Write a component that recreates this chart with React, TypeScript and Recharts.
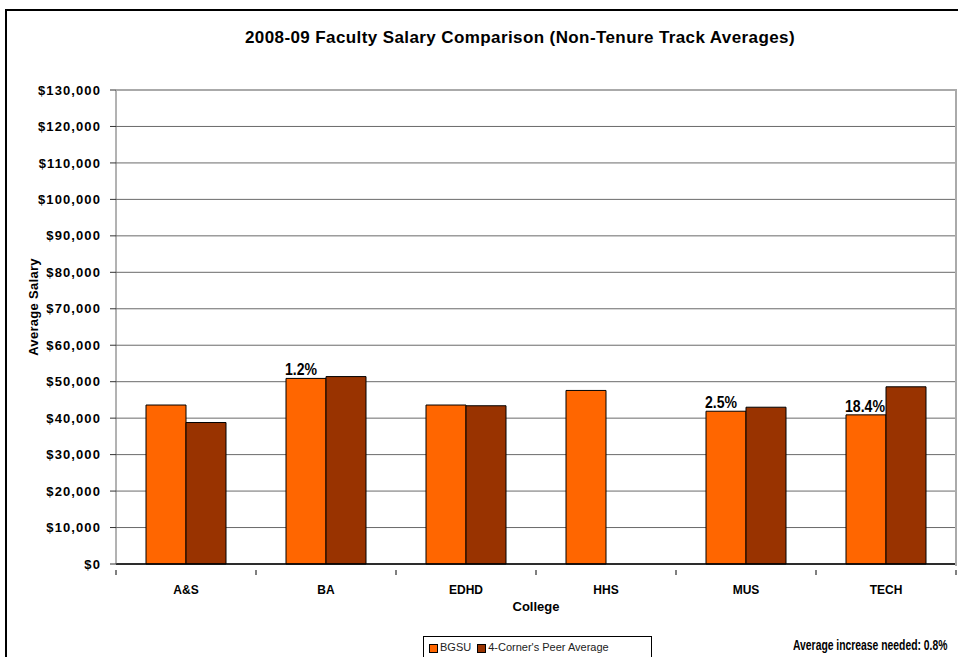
import { BarChart, Bar, XAxis, YAxis, CartesianGrid, LabelList } from 'recharts';

const colleges = ['A&S', 'BA', 'EDHD', 'HHS', 'MUS', 'TECH'];
const bgsu = [43600, 50900, 43600, 47600, 41900, 40900];
const peer = [38800, 51400, 43400, null, 43000, 48600];
const increaseNeeded = ['', '1.2%', '', '', '2.5%', '18.4%'];
const yTicks = [0, 10000, 20000, 30000, 40000, 50000, 60000, 70000, 80000, 90000, 100000, 110000, 120000, 130000];

const data = colleges.map((college, i) => ({
  college,
  bgsu: bgsu[i],
  peer: peer[i],
  gap: increaseNeeded[i],
}));

const font = "'Liberation Sans', Arial, sans-serif";

const CollegeTick = (props: any) => {
  const { x, y, payload, index } = props;
  const half = 70;
  return (
    <g>
      <line x1={x - half} y1={y} x2={x - half} y2={y + 5} stroke="#000" />
      {index === colleges.length - 1 && (
        <line x1={x + half} y1={y} x2={x + half} y2={y + 5} stroke="#000" />
      )}
      <text x={x} y={y + 24} textAnchor="middle" fontFamily={font} fontWeight="bold" fontSize={12} fill="#000">
        {payload.value}
      </text>
    </g>
  );
};

const GapLabel = (props: any) => {
  const { x, y, value } = props;
  if (!value) return null;
  // squeezed like the original narrow face
  const w = value.length * 8;
  return (
    <text x={x - 1} y={y - 3} fontFamily={font} fontWeight="bold" fontSize={17} fill="#000"
      textLength={w} lengthAdjust="spacingAndGlyphs">
      {value}
    </text>
  );
};

export default function App() {
  return (
    <div style={{ position: 'absolute', left: 0, top: 0, width: 958, height: 657, overflow: 'hidden', background: '#fff' }}>
      <div style={{ position: 'absolute', left: 5, top: 9, width: 980, height: 700, borderTop: '2px solid #000', borderLeft: '2px solid #000' }} />
      <div style={{ position: 'absolute', left: 0, top: 28, width: 1040, textAlign: 'center', fontFamily: font, fontWeight: 'bold', fontSize: 17, letterSpacing: 0.4 }}>
        2008-09 Faculty Salary Comparison (Non-Tenure Track Averages)
      </div>
      <div style={{ position: 'absolute', left: 33, top: 307, transform: 'translate(-50%, -50%) rotate(-90deg)', whiteSpace: 'nowrap', fontFamily: font, fontWeight: 'bold', fontSize: 13, letterSpacing: 0.3 }}>
        Average Salary
      </div>
      <div style={{ position: 'absolute', left: 0, top: 599, width: 1072, textAlign: 'center', fontFamily: font, fontWeight: 'bold', fontSize: 13 }}>
        College
      </div>
      <div style={{ position: 'absolute', left: 423, top: 636, width: 229, height: 30, border: '1px solid #000', fontFamily: font, fontSize: 11, color: '#222', display: 'flex', alignItems: 'flex-start', paddingTop: 4, boxSizing: 'border-box', paddingLeft: 5 }}>
        <span style={{ display: 'inline-block', width: 7, height: 7, background: '#FF6600', border: '1px solid #000', marginTop: 3, marginRight: 2 }} />
        <span>BGSU</span>
        <span style={{ display: 'inline-block', width: 7, height: 7, background: '#993300', border: '1px solid #000', marginTop: 3, marginLeft: 6, marginRight: 2 }} />
        <span>4-Corner's Peer Average</span>
      </div>
      <div style={{ position: 'absolute', left: 793, top: 636, whiteSpace: 'nowrap', fontFamily: font, fontWeight: 'bold', fontSize: 15, transform: 'scaleX(0.69)', transformOrigin: 'left top' }}>
        Average increase needed: 0.8%
      </div>
      <div style={{ position: 'absolute', left: 0, top: 0 }}>
        <BarChart
          width={958}
          height={657}
          data={data}
          margin={{ top: 90, right: 2, bottom: 0, left: 36 }}
          barCategoryGap={30}
          barGap={0}
        >
          <CartesianGrid vertical={false} stroke="#6a6a6a" />
          <XAxis
            dataKey="college"
            tickLine={false}
            axisLine={{ stroke: '#000', strokeWidth: 1.5 }}
            tick={<CollegeTick />}
            tickMargin={0}
            interval={0}
            height={93}
          />
          <YAxis
            width={80}
            domain={[0, 130000]}
            ticks={yTicks}
            interval={0}
            tickSize={6}
            tickMargin={9}
            axisLine={{ stroke: '#666' }}
            tickLine={{ stroke: '#333' }}
            tickFormatter={(v: number) => `$${v.toLocaleString('en-US')}`}
            tick={{ fontFamily: font, fontWeight: 'bold', fontSize: 13, fill: '#000', letterSpacing: 1.1 }}
          />
          <Bar dataKey="bgsu" fill="#FF6600" stroke="#000" strokeWidth={1} isAnimationActive={false}>
            <LabelList dataKey="gap" content={<GapLabel />} />
          </Bar>
          <Bar dataKey="peer" fill="#993300" stroke="#000" strokeWidth={1} isAnimationActive={false} />
        </BarChart>
      </div>
      <div style={{ position: 'absolute', left: 116, top: 89, width: 839, height: 475, borderTop: '2px solid #aaa', borderRight: '2px solid #aaa', pointerEvents: 'none' }} />
    </div>
  );
}
